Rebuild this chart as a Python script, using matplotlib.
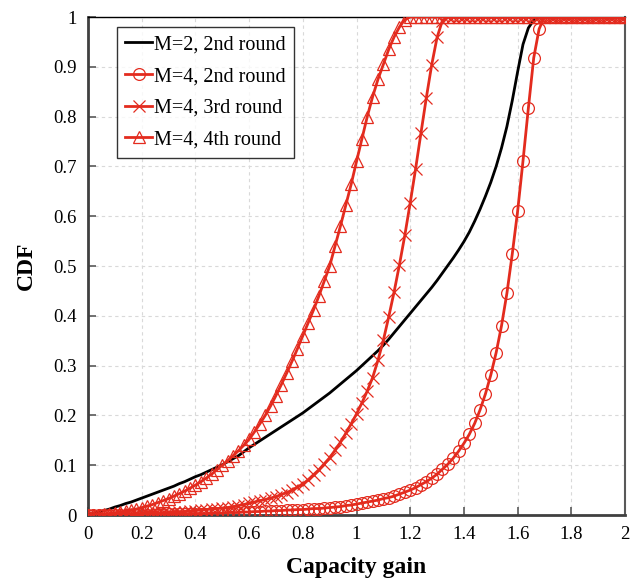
import numpy as np
import matplotlib
matplotlib.use("Agg")
import matplotlib.pyplot as plt

# sampling grid of capacity gain (step 0.02)
x = np.linspace(0, 2, 101)

m2_round2 = [
    0.000, 0.003, 0.006, 0.009, 0.012, 0.016, 0.019, 0.023, 0.026, 0.030,
    0.034, 0.038, 0.042, 0.046, 0.050, 0.054, 0.058, 0.063, 0.067, 0.072,
    0.077, 0.081, 0.086, 0.091, 0.096, 0.101, 0.107, 0.113, 0.119, 0.127,
    0.135, 0.142, 0.149, 0.156, 0.163, 0.170, 0.177, 0.184, 0.191, 0.198,
    0.205, 0.213, 0.221, 0.229, 0.237, 0.245, 0.254, 0.263, 0.272, 0.281,
    0.290, 0.300, 0.310, 0.320, 0.330, 0.341, 0.353, 0.366, 0.379, 0.392,
    0.405, 0.418, 0.431, 0.444, 0.457, 0.471, 0.486, 0.501, 0.516, 0.532,
    0.549, 0.568, 0.590, 0.614, 0.640, 0.668, 0.700, 0.737, 0.780, 0.832,
    0.890, 0.945, 0.978, 0.994, 1.000, 1.000, 1.000, 1.000, 1.000, 1.000,
    1.000, 1.000, 1.000, 1.000, 1.000, 1.000, 1.000, 1.000, 1.000, 1.000,
    1.000]

m4_round2 = [
    0.000, 0.000, 0.000, 0.000, 0.000, 0.001, 0.001, 0.001, 0.001, 0.001,
    0.001, 0.001, 0.001, 0.002, 0.002, 0.002, 0.002, 0.002, 0.002, 0.003,
    0.003, 0.003, 0.003, 0.004, 0.004, 0.004, 0.005, 0.005, 0.005, 0.006,
    0.006, 0.007, 0.007, 0.008, 0.008, 0.009, 0.009, 0.010, 0.010, 0.011,
    0.011, 0.012, 0.013, 0.013, 0.014, 0.015, 0.016, 0.017, 0.019, 0.020,
    0.022, 0.024, 0.026, 0.028, 0.030, 0.033, 0.035, 0.038, 0.042, 0.046,
    0.050, 0.055, 0.061, 0.067, 0.074, 0.082, 0.092, 0.102, 0.114, 0.128,
    0.144, 0.162, 0.184, 0.211, 0.243, 0.281, 0.326, 0.380, 0.445, 0.524,
    0.610, 0.711, 0.817, 0.918, 0.976, 1.000, 1.000, 1.000, 1.000, 1.000,
    1.000, 1.000, 1.000, 1.000, 1.000, 1.000, 1.000, 1.000, 1.000, 1.000,
    1.000]

m4_round3 = [
    0.000, 0.000, 0.001, 0.001, 0.001, 0.001, 0.002, 0.002, 0.002, 0.003,
    0.003, 0.003, 0.004, 0.004, 0.005, 0.005, 0.006, 0.006, 0.007, 0.008,
    0.009, 0.010, 0.011, 0.012, 0.013, 0.014, 0.015, 0.017, 0.019, 0.021,
    0.024, 0.026, 0.029, 0.031, 0.034, 0.037, 0.041, 0.045, 0.050, 0.056,
    0.062, 0.071, 0.081, 0.091, 0.103, 0.115, 0.130, 0.146, 0.164, 0.183,
    0.203, 0.225, 0.249, 0.276, 0.311, 0.351, 0.398, 0.448, 0.503, 0.562,
    0.627, 0.695, 0.767, 0.838, 0.904, 0.959, 0.993, 1.000, 1.000, 1.000,
    1.000, 1.000, 1.000, 1.000, 1.000, 1.000, 1.000, 1.000, 1.000, 1.000,
    1.000, 1.000, 1.000, 1.000, 1.000, 1.000, 1.000, 1.000, 1.000, 1.000,
    1.000, 1.000, 1.000, 1.000, 1.000, 1.000, 1.000, 1.000, 1.000, 1.000,
    1.000]

m4_round4 = [
    0.000, 0.001, 0.001, 0.002, 0.003, 0.004, 0.006, 0.008, 0.010, 0.012,
    0.015, 0.018, 0.021, 0.025, 0.029, 0.033, 0.038, 0.043, 0.048, 0.054,
    0.060, 0.067, 0.074, 0.082, 0.091, 0.100, 0.109, 0.119, 0.129, 0.140,
    0.152, 0.167, 0.183, 0.200, 0.219, 0.240, 0.262, 0.285, 0.309, 0.334,
    0.360, 0.386, 0.412, 0.440, 0.470, 0.500, 0.540, 0.580, 0.622, 0.664,
    0.710, 0.755, 0.800, 0.840, 0.875, 0.905, 0.935, 0.960, 0.980, 0.995,
    1.000, 1.000, 1.000, 1.000, 1.000, 1.000, 1.000, 1.000, 1.000, 1.000,
    1.000, 1.000, 1.000, 1.000, 1.000, 1.000, 1.000, 1.000, 1.000, 1.000,
    1.000, 1.000, 1.000, 1.000, 1.000, 1.000, 1.000, 1.000, 1.000, 1.000,
    1.000, 1.000, 1.000, 1.000, 1.000, 1.000, 1.000, 1.000, 1.000, 1.000,
    1.000]

labels = ["M=2, 2nd round", "M=4, 2nd round", "M=4, 3rd round", "M=4, 4th round"]
x_ticks = [0, 0.2, 0.4, 0.6, 0.8, 1.0, 1.2, 1.4, 1.6, 1.8, 2.0]
x_ticklabels = ["0", "0.2", "0.4", "0.6", "0.8", "1", "1.2", "1.4", "1.6", "1.8", "2"]
y_ticks = [0, 0.1, 0.2, 0.3, 0.4, 0.5, 0.6, 0.7, 0.8, 0.9, 1.0]
y_ticklabels = ["0", "0.1", "0.2", "0.3", "0.4", "0.5", "0.6", "0.7", "0.8", "0.9", "1"]

plt.rcParams['font.family'] = ['Liberation Serif', 'DejaVu Serif']

RED = '#E32B1E'
fig = plt.figure(figsize=(6.3, 5.83), dpi=100)
ax = fig.add_axes([0.1397, 0.1166, 0.8524, 0.8542])

ax.plot(x, m2_round2, color='black', lw=2.0, label=labels[0], zorder=3)
ax.plot(x, m4_round2, color=RED, lw=2.0, marker='o', ms=8.5, mfc='none',
        mec=RED, mew=0.9, label=labels[1], zorder=3)
ax.plot(x, m4_round3, color=RED, lw=2.0, marker='x', ms=8.5,
        mec=RED, mew=0.9, label=labels[2], zorder=3)
ax.plot(x, m4_round4, color=RED, lw=2.0, marker='^', ms=8.5, mfc='none',
        mec=RED, mew=0.9, label=labels[3], zorder=3)

ax.set_xlim(0, 2)
ax.set_ylim(0, 1)
ax.set_xticks(x_ticks)
ax.set_xticklabels(x_ticklabels)
ax.set_yticks(y_ticks)
ax.set_yticklabels(y_ticklabels)
ax.tick_params(axis='both', direction='in', length=6, width=1.2, color='#595959',
               labelsize=13.5, pad=8, top=False, right=False)

ax.grid(True, color='#D9D9D9', linestyle=(0, (3, 3)), linewidth=0.8, zorder=0)
ax.set_axisbelow(True)

for side in ['left', 'bottom']:
    ax.spines[side].set_color('#404040')
    ax.spines[side].set_linewidth(2.0)
ax.spines['top'].set_color('black')
ax.spines['top'].set_linewidth(1.0)
ax.spines['right'].set_color('#595959')
ax.spines['right'].set_linewidth(1.5)

ax.set_xlabel('Capacity gain', fontsize=17, fontweight='bold', labelpad=10)
ax.set_ylabel('CDF', fontsize=17, fontweight='bold', labelpad=12)

leg = ax.legend(loc='upper left', bbox_to_anchor=(0.054, 0.98), borderaxespad=0,
                fontsize=14.5, frameon=True, fancybox=False, edgecolor='black',
                handlelength=1.3, handletextpad=0.1, labelspacing=0.62,
                borderpad=0.42)
leg.get_frame().set_linewidth(1.0)

fig.savefig('out.png', dpi=100)
